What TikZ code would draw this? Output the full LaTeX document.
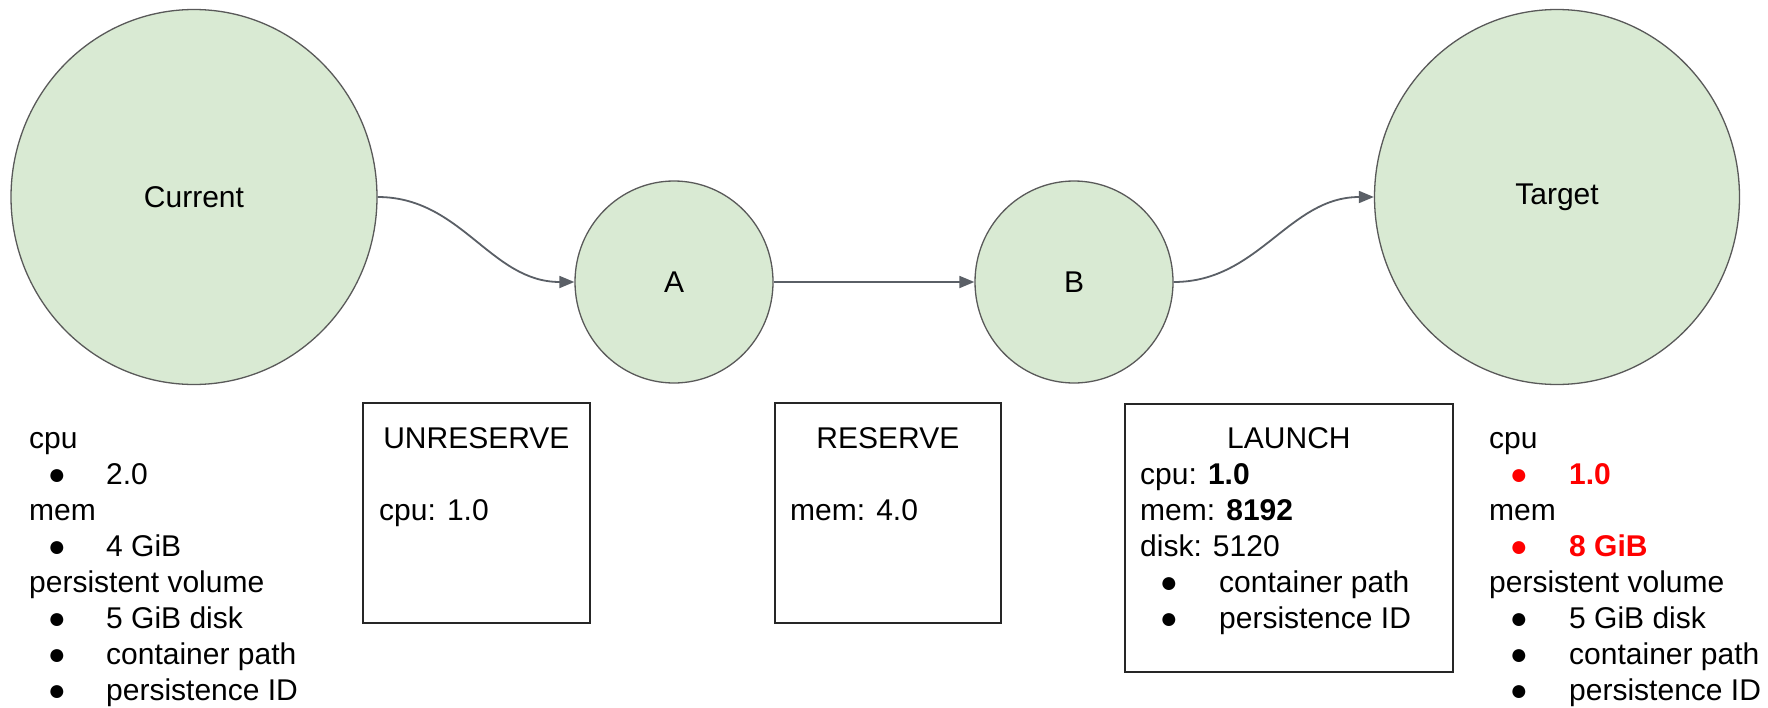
\documentclass[tikz,border=0pt]{standalone}
\usepackage{fontspec}
\setmainfont{Liberation Sans}
\usetikzlibrary{arrows.meta,shapes.geometric}
\definecolor{nodegreen}{HTML}{D9EAD3}
\definecolor{edgegray}{HTML}{595959}
\definecolor{arrowgray}{HTML}{5A5F66}
\definecolor{hotred}{HTML}{FF0000}
\begin{document}
\begin{tikzpicture}[x=1pt,y=-1pt,
  bigfont/.style={font=\fontsize{30}{36}\selectfont},
  statenode/.style={ellipse, draw=edgegray, line width=1.3pt, fill=nodegreen, inner sep=0pt, bigfont},
  stepbox/.style={rectangle, draw=black!85, line width=1.8pt, inner sep=0pt, anchor=north west},
  txt/.style={anchor=base west, inner sep=0pt, bigfont},
  ttl/.style={anchor=base, inner sep=0pt, bigfont},
  bul/.style={anchor=base, inner sep=0pt, bigfont},
  flow/.style={draw=arrowgray, line width=1.8pt, -{Triangle[length=15pt,width=12pt]}},
]
\useasboundingbox (0,0) rectangle (1768,707);

% states
\node[statenode, minimum width=366pt, minimum height=375pt] (cur) at (194,197) {Current};
\node[statenode, minimum width=198pt, minimum height=202pt] (A) at (674,282) {A};
\node[statenode, minimum width=198pt, minimum height=202pt] (B) at (1074,282) {B};
\node[statenode, minimum width=365pt, minimum height=375pt] (tgt) at (1557,197) {Target};

% connectors
\draw[flow] (cur.east) to[out=0,in=180] (A.west);
\draw[flow] (A.east) -- (B.west);
\draw[flow] (B.east) to[out=0,in=180] (tgt.west);

% operation boxes
\node[stepbox, minimum width=227pt, minimum height=220pt] (unres) at (362,402) {};
\node[ttl] (unresT) at (unres.north |- 0,448) {UNRESERVE};
\node[txt] (unresC) at (379,520) {cpu: 1.0};

\node[stepbox, minimum width=226pt, minimum height=220pt] (res) at (774,402) {};
\node[ttl] (resT) at (res.north |- 0,448) {RESERVE};
\node[txt] (resM) at (790,520) {mem: 4.0};

\node[stepbox, minimum width=328pt, minimum height=268pt] (lau) at (1124,403) {};
\node[ttl] (lauT) at (lau.north |- 0,448) {LAUNCH};
\node[txt] (lauC) at (1140,484) {cpu: \textbf{1.0}};
\node[txt] (lauM) at (1140,520) {mem: \textbf{8192}};
\node[txt] (lauD) at (1140,556) {disk: 5120};
\node[bul] (lauB1) at (1169,592) {●};
\node[txt] (lauP1) at (1219,592) {container path};
\node[bul] (lauB2) at (1169,628) {●};
\node[txt] (lauP2) at (1219,628) {persistence ID};

% current resources
\node[txt] (lc) at (29,448) {cpu};
\node[bul] (lcb) at (57,484) {●};
\node[txt] (lcv) at (106,484) {2.0};
\node[txt] (lm) at (29,520) {mem};
\node[bul] (lmb) at (57,556) {●};
\node[txt] (lmv) at (106,556) {4 GiB};
\node[txt] (lp) at (29,592) {persistent volume};
\node[bul] (lpb1) at (57,628) {●};
\node[txt] (lpv1) at (106,628) {5 GiB disk};
\node[bul] (lpb2) at (57,664) {●};
\node[txt] (lpv2) at (106,664) {container path};
\node[bul] (lpb3) at (57,700) {●};
\node[txt] (lpv3) at (106,700) {persistence ID};

% target resources
\node[txt] (rc) at (1489,448) {cpu};
\node[bul, text=hotred] (rcb) at (1519,484) {●};
\node[txt, text=hotred] (rcv) at (1569,484) {\textbf{1.0}};
\node[txt] (rm) at (1489,520) {mem};
\node[bul, text=hotred] (rmb) at (1519,556) {●};
\node[txt, text=hotred] (rmv) at (1569,556) {\textbf{8 GiB}};
\node[txt] (rp) at (1489,592) {persistent volume};
\node[bul] (rpb1) at (1519,628) {●};
\node[txt] (rpv1) at (1569,628) {5 GiB disk};
\node[bul] (rpb2) at (1519,664) {●};
\node[txt] (rpv2) at (1569,664) {container path};
\node[bul] (rpb3) at (1519,700) {●};
\node[txt] (rpv3) at (1569,700) {persistence ID};
\end{tikzpicture}
\end{document}
